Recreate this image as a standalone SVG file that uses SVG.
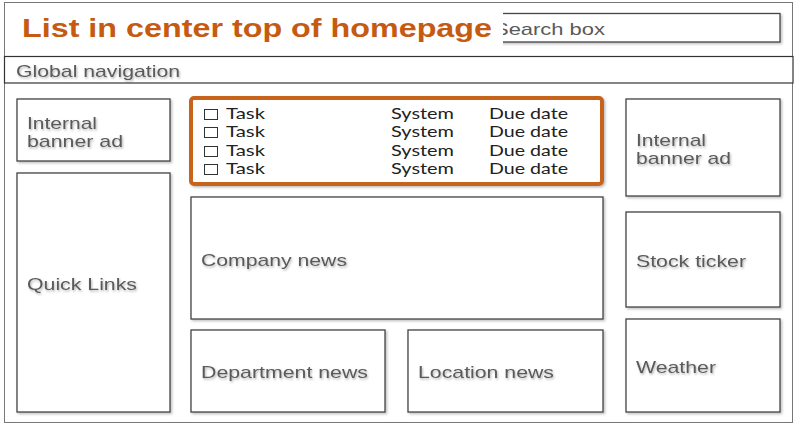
<svg xmlns="http://www.w3.org/2000/svg" width="800" height="430" viewBox="0 0 800 430">
  <defs>
    <filter id="sh" x="-10%" y="-10%" width="130%" height="130%">
      <feDropShadow dx="1.5" dy="1.5" stdDeviation="1" flood-color="#000" flood-opacity="0.25"/>
    </filter>
    <filter id="tsh" x="-5%" y="-20%" width="115%" height="160%">
      <feDropShadow dx="1" dy="1.5" stdDeviation="0.8" flood-color="#000" flood-opacity="0.3"/>
    </filter>
  </defs>
  <style>
    .box { fill: #fff; stroke: #444; stroke-width: 1.3; }
    .lbl { font-family: "Liberation Sans", Arial, sans-serif; font-size: 17px; fill: #5a5a5a; }
    .row { font-family: Lato, "Open Sans", sans-serif; font-size: 15px; fill: #222; }
    .cb { fill: #fff; stroke: #333; stroke-width: 1; }
  </style>
  <rect width="800" height="430" fill="#fff"/>
  <g id="frame">
    <rect x="4.5" y="2.5" width="788" height="420" fill="#fff" stroke="#777" stroke-width="1"/>
    <line x1="4.5" y1="56.5" x2="792.5" y2="56.5" stroke="#777" stroke-width="1"/>
  </g>
  <g id="search-box">
    <rect class="box" x="500" y="13.5" width="280" height="28.5" filter="url(#sh)"/>
    <text class="lbl" x="494" y="35" textLength="111" lengthAdjust="spacingAndGlyphs">Search box</text>
  </g>
  <g id="title">
    <rect x="12" y="8" width="491" height="44" fill="#fff"/>
    <text x="22" y="37" font-family="Liberation Sans, Arial, sans-serif" font-weight="bold" font-size="26" fill="#c55a11" textLength="470" lengthAdjust="spacingAndGlyphs">List in center top of homepage</text>
  </g>
  <g id="global-navigation">
    <rect x="4.5" y="56.5" width="788.5" height="26.5" fill="#fff" stroke="#333" stroke-width="1.2"/>
    <text class="lbl" x="16" y="77" textLength="164" lengthAdjust="spacingAndGlyphs" filter="url(#tsh)">Global navigation</text>
  </g>
  <g id="internal-banner-left">
    <rect class="box" x="17" y="99" width="153" height="62" filter="url(#sh)"/>
    <text class="lbl" x="27" y="129" textLength="70" lengthAdjust="spacingAndGlyphs" filter="url(#tsh)">Internal</text>
    <text class="lbl" x="27" y="147" textLength="96" lengthAdjust="spacingAndGlyphs" filter="url(#tsh)">banner ad</text>
  </g>
  <g id="quick-links">
    <rect class="box" x="17" y="173" width="153" height="239" filter="url(#sh)"/>
    <text class="lbl" x="27" y="290" textLength="110" lengthAdjust="spacingAndGlyphs" filter="url(#tsh)">Quick Links</text>
  </g>
  <g id="task-list">
    <rect x="191" y="98" width="411" height="86" rx="3" fill="#fff" stroke="#c8641e" stroke-width="4" filter="url(#sh)"/>
    <g>
      <rect class="cb" x="204.5" y="109.5" width="13" height="10"/>
      <rect class="cb" x="204.5" y="127.5" width="13" height="10"/>
      <rect class="cb" x="204.5" y="146.5" width="13" height="10"/>
      <rect class="cb" x="204.5" y="164.5" width="13" height="10"/>
    </g>
    <text class="row" x="226" y="119" textLength="39" lengthAdjust="spacingAndGlyphs">Task</text>
    <text class="row" x="391" y="119" textLength="63" lengthAdjust="spacingAndGlyphs">System</text>
    <text class="row" x="489" y="119" textLength="79" lengthAdjust="spacingAndGlyphs">Due date</text>
    <text class="row" x="226" y="137" textLength="39" lengthAdjust="spacingAndGlyphs">Task</text>
    <text class="row" x="391" y="137" textLength="63" lengthAdjust="spacingAndGlyphs">System</text>
    <text class="row" x="489" y="137" textLength="79" lengthAdjust="spacingAndGlyphs">Due date</text>
    <text class="row" x="226" y="156" textLength="39" lengthAdjust="spacingAndGlyphs">Task</text>
    <text class="row" x="391" y="156" textLength="63" lengthAdjust="spacingAndGlyphs">System</text>
    <text class="row" x="489" y="156" textLength="79" lengthAdjust="spacingAndGlyphs">Due date</text>
    <text class="row" x="226" y="174" textLength="39" lengthAdjust="spacingAndGlyphs">Task</text>
    <text class="row" x="391" y="174" textLength="63" lengthAdjust="spacingAndGlyphs">System</text>
    <text class="row" x="489" y="174" textLength="79" lengthAdjust="spacingAndGlyphs">Due date</text>
  </g>
  <g id="company-news">
    <rect class="box" x="191" y="197" width="412" height="122" filter="url(#sh)"/>
    <text class="lbl" x="201" y="266" textLength="146" lengthAdjust="spacingAndGlyphs" filter="url(#tsh)">Company news</text>
  </g>
  <g id="department-news">
    <rect class="box" x="191" y="330" width="194" height="82" filter="url(#sh)"/>
    <text class="lbl" x="201" y="378" textLength="167" lengthAdjust="spacingAndGlyphs" filter="url(#tsh)">Department news</text>
  </g>
  <g id="location-news">
    <rect class="box" x="408" y="330" width="195" height="82" filter="url(#sh)"/>
    <text class="lbl" x="418" y="378" textLength="136" lengthAdjust="spacingAndGlyphs" filter="url(#tsh)">Location news</text>
  </g>
  <g id="internal-banner-right">
    <rect class="box" x="626" y="99" width="154" height="97" filter="url(#sh)"/>
    <text class="lbl" x="636" y="146" textLength="70" lengthAdjust="spacingAndGlyphs" filter="url(#tsh)">Internal</text>
    <text class="lbl" x="636" y="164" textLength="95" lengthAdjust="spacingAndGlyphs" filter="url(#tsh)">banner ad</text>
  </g>
  <g id="stock-ticker">
    <rect class="box" x="626" y="212" width="154" height="95" filter="url(#sh)"/>
    <text class="lbl" x="636" y="267" textLength="110" lengthAdjust="spacingAndGlyphs" filter="url(#tsh)">Stock ticker</text>
  </g>
  <g id="weather">
    <rect class="box" x="626" y="319" width="154" height="93" filter="url(#sh)"/>
    <text class="lbl" x="636" y="373" textLength="80" lengthAdjust="spacingAndGlyphs" filter="url(#tsh)">Weather</text>
  </g>
  <g id="connectors"/>
</svg>
